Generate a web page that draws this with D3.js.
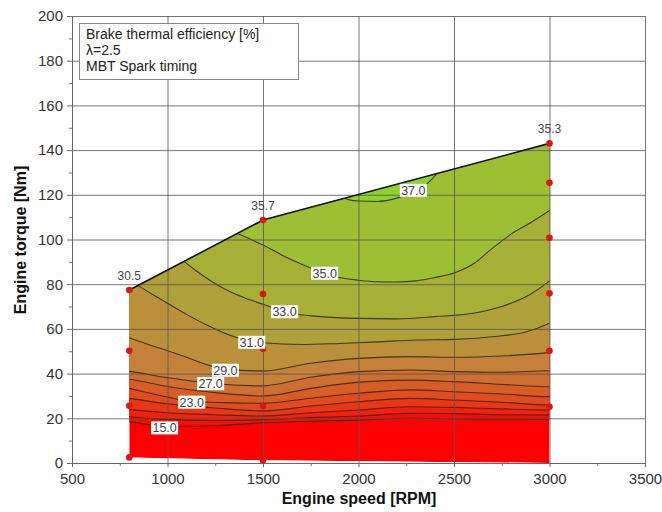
<!DOCTYPE html>
<html>
<head>
<meta charset="utf-8">
<script src="https://cdn.jsdelivr.net/npm/d3@7"></script>
<style>
  body { margin: 0; background: #fff; }
  text { font-family: Arial, "Liberation Sans", sans-serif; }
</style>
</head>
<body>
<div id="chart"></div>
<script>
// axis ticks
var speedTicks = [500, 1000, 1500, 2000, 2500, 3000, 3500];
var speedMinor = [750, 1250, 1750, 2250, 2750, 3250];
var torqueTicks = [0, 20, 40, 60, 80, 100, 120, 140, 160, 180, 200];
var torqueMinor = [10, 30, 50, 70, 90, 110, 130, 150, 170, 190];

// mapped operating range [rpm, Nm]
var envelope = [[800, 2.5], [800, 77.4], [1500, 108.7], [3000, 143], [3000, 0], [1500, 1.2]];
var fullLoad = [[800, 77.4], [1500, 108.7], [3000, 143]];

// measured operating points
var pointSpeed = [800, 800, 800, 800, 1500, 1500, 1500, 1500, 1500, 3000, 3000, 3000, 3000, 3000, 3000];
var pointTorque = [2.5, 25.6, 50.2, 77.4, 1.2, 25.5, 51.1, 75.6, 108.7, 25.2, 50.2, 75.9, 100.8, 125.4, 143];

// values written at the full load points
var cornerSpeed = [800, 1500, 3000];
var cornerTorque = [77.4, 108.7, 143];
var cornerValue = ["30.5", "35.7", "35.3"];

// iso-efficiency lines, [rpm, Nm]
var iso15 = [[790, 18.6], [800, 18.5], [1000, 16.4], [1250, 16.7], [1500, 18.0], [1750, 18.7], [2000, 19.2], [2270, 20.0], [2500, 19.8], [2750, 19.7], [3000, 19.6], [3010, 19.6]];
var iso17 = [[790, 20.8], [800, 20.7], [1000, 19.5], [1250, 19.0], [1500, 19.4], [1750, 20.3], [2000, 21.0], [2270, 22.2], [2500, 22.1], [2750, 21.6], [3000, 21.5], [3010, 21.5]];
var iso19 = [[790, 24.1], [800, 24.0], [1000, 22.5], [1250, 21.6], [1500, 21.0], [1750, 22.5], [2000, 23.7], [2270, 25.2], [2500, 24.9], [2750, 24.2], [3000, 23.7], [3010, 23.7]];
var iso21 = [[790, 29.0], [800, 28.9], [1000, 26.5], [1250, 24.6], [1500, 23.3], [1750, 25.5], [2000, 27.4], [2270, 28.9], [2500, 28.2], [2750, 27.2], [3000, 26.0], [3010, 26.0]];
var iso23 = [[790, 33.6], [800, 33.4], [1000, 29.5], [1125, 27.6], [1300, 27.0], [1500, 26.7], [1750, 29.0], [2000, 31.2], [2270, 32.7], [2500, 31.9], [2750, 30.9], [3000, 29.7], [3010, 29.7]];
var iso25 = [[790, 37.6], [800, 37.5], [1000, 34.2], [1250, 31.5], [1500, 30.0], [1750, 33.4], [2000, 36.2], [2270, 37.1], [2500, 36.4], [2750, 35.2], [3000, 34.1], [3010, 34.1]];
var iso27 = [[790, 41.1], [800, 41.0], [1000, 38.2], [1220, 35.7], [1500, 34.5], [1750, 38.4], [2000, 40.9], [2270, 41.6], [2500, 40.9], [2750, 40.6], [3000, 41.3], [3010, 41.3]];
var iso29 = [[790, 56.3], [800, 56.0], [900, 53.0], [1000, 50.2], [1100, 47.3], [1200, 44.2], [1300, 41.8], [1500, 41.2], [1750, 44.6], [2000, 46.8], [2270, 47.6], [2500, 47.3], [2750, 47.9], [3000, 49.5], [3010, 49.6]];
var iso31 = [[825, 80.5], [920, 75.5], [1000, 71.5], [1100, 66.5], [1200, 62.0], [1350, 56.5], [1500, 53.8], [1700, 53.0], [1900, 53.5], [2100, 54.2], [2300, 55.0], [2500, 55.3], [2700, 56.5], [2880, 58.7], [3000, 62.5], [3010, 62.9]];
var iso33 = [[1075, 91.0], [1150, 86.0], [1275, 79.0], [1400, 74.0], [1500, 71.0], [1613, 67.7], [1800, 65.5], [2000, 64.7], [2200, 64.5], [2400, 65.5], [2600, 67.0], [2750, 70.0], [2900, 75.5], [3000, 81.5], [3010, 82.2]];
var iso35 = [[1360, 103.0], [1450, 99.5], [1500, 97.5], [1600, 93.0], [1700, 89.0], [1800, 85.5], [1900, 83.0], [2000, 81.8], [2100, 81.1], [2200, 81.0], [2300, 81.5], [2400, 83.0], [2500, 85.0], [2600, 89.0], [2700, 96.0], [2800, 102.5], [2900, 107.5], [3000, 113.0], [3010, 113.6]];
var iso37 = [[1915, 119.0], [1950, 117.8], [2000, 117.2], [2100, 117.0], [2200, 118.5], [2290, 121.5], [2360, 125.0], [2420, 130.5]];

var levels = [15, 17, 19, 21, 23, 25, 27, 29, 31, 33, 35, 37];
var isolines = [iso15, iso17, iso19, iso21, iso23, iso25, iso27, iso29, iso31, iso33, iso35, iso37];

// inline labels on the iso-lines
var labelLevel = [15, 23, 27, 29, 31, 33, 35, 37];
var labelSpeed = [985, 1127, 1226, 1303, 1441, 1613, 1823, 2287];
var labelTorque = [15.7, 27.2, 35.5, 41.5, 54.0, 67.7, 84.9, 122.0];

var legendLines = ["Brake thermal efficiency [%]", "\u03bb=2.5", "MBT Spark timing"];

var width = 662, height = 512;
var x = d3.scaleLinear().domain([500, 3500]).range([72, 645]);
var y = d3.scaleLinear().domain([0, 200]).range([463, 16]);

var bandColor = d3.scaleLinear()
  .domain([15, 21, 27, 31, 35, 37])
  .range(["#fe0a02", "#e34a1e", "#c5803a", "#afa13a", "#9dbf33", "#8ed22c"]);

var svg = d3.select("#chart").append("svg")
  .attr("width", width)
  .attr("height", height);

var line = d3.line().x(d => x(d[0])).y(d => y(d[1]));
var isoLine = d3.line().x(d => x(d[0])).y(d => y(d[1])).curve(d3.curveMonotoneX);
var isoArea = d3.area().x(d => x(d[0])).y0(y(200)).y1(d => y(d[1])).curve(d3.curveMonotoneX);

svg.append("defs").append("clipPath").attr("id", "env")
  .append("path").attr("d", line(envelope) + "Z");

// filled bands, lowest first
var map = svg.append("g").attr("clip-path", "url(#env)");
map.append("path").attr("d", line(envelope) + "Z").attr("fill", "#ff0000");

map.selectAll("path.band")
  .data(levels)
  .join("path")
  .attr("class", "band")
  .attr("d", (d, i) => isoArea(isolines[i]))
  .attr("fill", d => bandColor(d));

map.selectAll("path.iso")
  .data(levels)
  .join("path")
  .attr("class", "iso")
  .attr("d", (d, i) => isoLine(isolines[i]))
  .attr("fill", "none")
  .attr("stroke", "#2b2a12")
  .attr("stroke-opacity", 0.85)
  .attr("stroke-width", 1.1);

// grid
svg.append("g")
  .attr("transform", "translate(0," + y(0) + ")")
  .call(d3.axisBottom(x).tickValues(speedTicks.slice(1)).tickSize(-(y(0) - y(200))).tickFormat(""))
  .call(g => g.select(".domain").remove())
  .call(g => g.selectAll("line").attr("stroke", "#555").attr("stroke-opacity", 0.8));

svg.append("g")
  .attr("transform", "translate(" + x(500) + ",0)")
  .call(d3.axisLeft(y).tickValues(torqueTicks.slice(1)).tickSize(-(x(3500) - x(500))).tickFormat(""))
  .call(g => g.select(".domain").remove())
  .call(g => g.selectAll("line").attr("stroke", "#555").attr("stroke-opacity", 0.8));

// axes
var xAxis = svg.append("g")
  .attr("transform", "translate(0," + y(0) + ")")
  .call(d3.axisBottom(x).tickValues(speedTicks).tickFormat(d3.format("d")).tickSize(4).tickPadding(6));
xAxis.selectAll("text").attr("font-size", 15).attr("fill", "#333").attr("font-family", "Arial, 'Liberation Sans', sans-serif");
xAxis.selectAll("line, path").attr("stroke", "#666");

svg.append("g")
  .attr("transform", "translate(0," + y(0) + ")")
  .call(d3.axisBottom(x).tickValues(speedMinor).tickSize(3).tickFormat(""))
  .call(g => g.select(".domain").remove())
  .call(g => g.selectAll("line").attr("stroke", "#777"));

var yAxis = svg.append("g")
  .attr("transform", "translate(" + x(500) + ",0)")
  .call(d3.axisLeft(y).tickValues(torqueTicks).tickFormat(d3.format("d")).tickSize(5).tickPadding(4));
yAxis.selectAll("text").attr("font-size", 15).attr("fill", "#333").attr("font-family", "Arial, 'Liberation Sans', sans-serif");
yAxis.selectAll("line, path").attr("stroke", "#666");

svg.append("g")
  .attr("transform", "translate(" + x(500) + ",0)")
  .call(d3.axisLeft(y).tickValues(torqueMinor).tickSize(3).tickFormat(""))
  .call(g => g.select(".domain").remove())
  .call(g => g.selectAll("line").attr("stroke", "#777"));

// full load line
svg.append("path")
  .attr("d", line(fullLoad))
  .attr("fill", "none")
  .attr("stroke", "#111")
  .attr("stroke-width", 1.6);

// measured points
svg.append("g").selectAll("circle")
  .data(pointSpeed)
  .join("circle")
  .attr("cx", d => x(d))
  .attr("cy", (d, i) => y(pointTorque[i]))
  .attr("r", 3.3)
  .attr("fill", "#dd1515");

svg.append("g").selectAll("text")
  .data(cornerValue)
  .join("text")
  .attr("x", (d, i) => x(cornerSpeed[i]))
  .attr("y", (d, i) => y(cornerTorque[i]) - 10)
  .attr("text-anchor", "middle")
  .attr("font-size", 12)
  .attr("fill", "#444")
  .text(d => d);

// iso-line labels
var lab = svg.append("g").selectAll("g")
  .data(labelLevel)
  .join("g")
  .attr("transform", (d, i) => "translate(" + x(labelSpeed[i]) + "," + y(labelTorque[i]) + ")");
lab.append("rect")
  .attr("x", -13.5).attr("y", -6.5)
  .attr("width", 27).attr("height", 13)
  .attr("fill", "#fff");
lab.append("text")
  .attr("text-anchor", "middle")
  .attr("dy", "0.36em")
  .attr("font-size", 12.5)
  .attr("fill", "#3e4050")
  .text(d => d.toFixed(1));

// legend box
svg.append("rect")
  .attr("x", 79.5).attr("y", 23.5)
  .attr("width", 219).attr("height", 56)
  .attr("fill", "#fff")
  .attr("stroke", "#888");
svg.append("g").selectAll("text")
  .data(legendLines)
  .join("text")
  .attr("x", 86)
  .attr("y", (d, i) => 39 + i * 16)
  .attr("font-size", 14)
  .attr("fill", "#222")
  .text(d => d);

// axis titles
svg.append("text")
  .attr("x", 359).attr("y", 504)
  .attr("text-anchor", "middle")
  .attr("font-size", 16)
  .attr("font-weight", "bold")
  .attr("fill", "#111")
  .text("Engine speed [RPM]");

svg.append("text")
  .attr("transform", "translate(20,240) rotate(-90)")
  .attr("text-anchor", "middle")
  .attr("dy", "0.35em")
  .attr("font-size", 16)
  .attr("font-weight", "bold")
  .attr("fill", "#111")
  .text("Engine torque [Nm]");
</script>
</body>
</html>
